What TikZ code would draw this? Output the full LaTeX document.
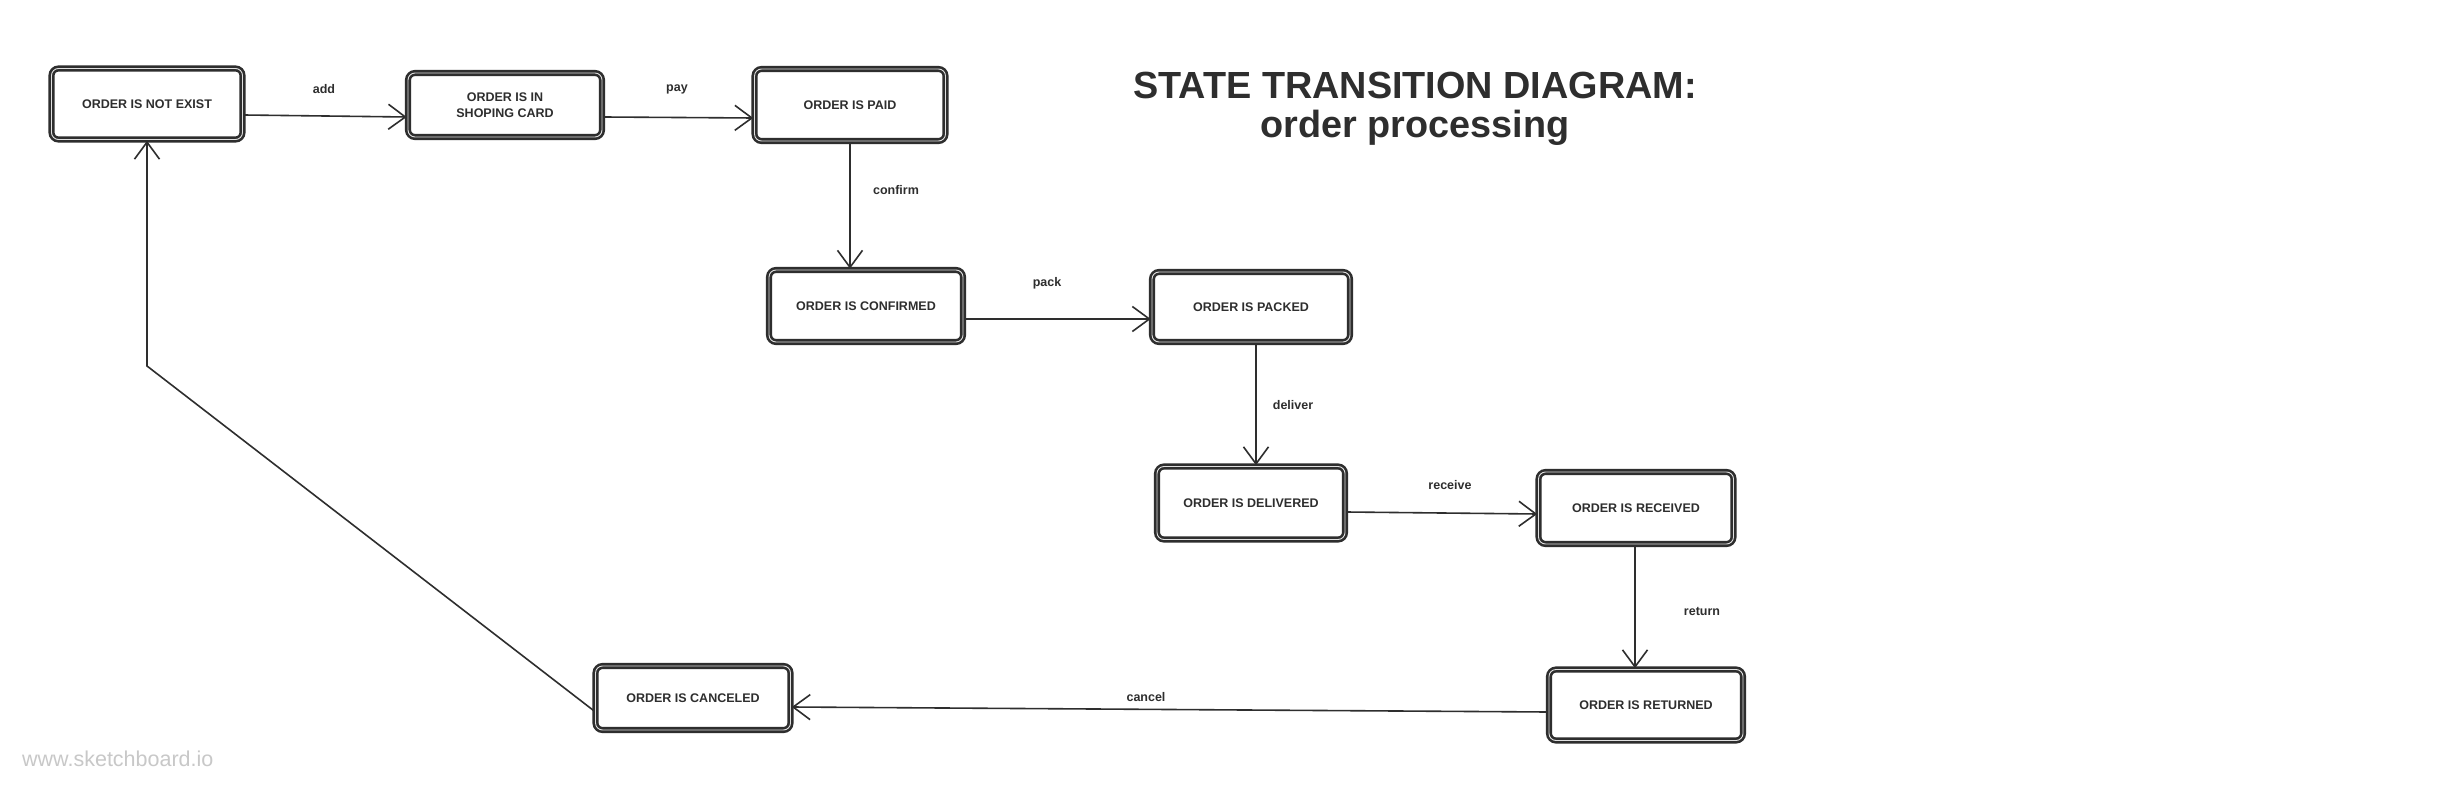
\documentclass[tikz,border=0pt]{standalone}
\usepackage{fontspec}
\setmainfont{Liberation Sans}
\usetikzlibrary{arrows.meta}
\definecolor{ink}{HTML}{2E2E2E}
\definecolor{wm}{HTML}{C8C8C8}
\tikzset{
  statebox/.style={draw=ink, double=white!88!black, double distance=0.9pt, line width=2.6pt,
    rounded corners=7pt, fill=white, text=ink, align=center,
    font=\fontsize{12.5}{16}\selectfont\bfseries, inner sep=0pt},
  conn/.style={draw=ink, line width=1.6pt, -{Straight Barb[length=17pt,width=25pt,line width=1.6pt]}},
  lbl/.style={text=ink, font=\fontsize{12.5}{15}\selectfont\bfseries, inner sep=0pt},
}
\begin{document}
\begin{tikzpicture}[x=1pt,y=-1pt]
\useasboundingbox (0,0) rectangle (2440,791);
\fill[white] (0,0) rectangle (2440,791);

% title
\node[text=ink, align=center, font=\fontsize{37.8}{38.5}\selectfont\bfseries] (title) at (1415,109)
  {STATE TRANSITION DIAGRAM:\\order processing};

% states
\node[statebox, minimum width=191pt, minimum height=71pt] (ne) at (147,104) {ORDER IS NOT EXIST};
\node[statebox, minimum width=194pt, minimum height=64pt] (sc) at (505,105) {ORDER IS IN\\SHOPING CARD};
\node[statebox, minimum width=191pt, minimum height=72pt] (pd) at (850,105) {ORDER IS PAID};
\node[statebox, minimum width=194pt, minimum height=72pt] (cf) at (866,306) {ORDER IS CONFIRMED};
\node[statebox, minimum width=198pt, minimum height=70pt] (pk) at (1251,307) {ORDER IS PACKED};
\node[statebox, minimum width=188pt, minimum height=73pt] (dl) at (1251,503) {ORDER IS DELIVERED};
\node[statebox, minimum width=195pt, minimum height=72pt] (rc) at (1636,508) {ORDER IS RECEIVED};
\node[statebox, minimum width=194pt, minimum height=71pt] (rt) at (1646,705) {ORDER IS RETURNED};
\node[statebox, minimum width=195pt, minimum height=64pt] (cn) at (693,698) {ORDER IS CANCELED};

% transitions
\draw[conn] ([yshift=-11pt]ne.east) -- ([yshift=-12pt]sc.west);
\draw[conn] ([yshift=-12pt]sc.east) -- ([yshift=-13pt]pd.west);
\draw[conn] (pd.south) -- (pd.south |- cf.north);
\draw[conn] ([yshift=-13pt]cf.east) -- ([yshift=-12pt]pk.west);
\draw[conn] ([xshift=5pt]pk.south) -- ([xshift=5pt]dl.north);
\draw[conn] ([yshift=-9pt]dl.east) -- ([yshift=-6pt]rc.west);
\draw[conn] ([xshift=-1pt]rc.south) -- ([xshift=-1pt]rc.south |- rt.north);
\draw[conn] ([yshift=-7pt]rt.west) -- ([yshift=-9pt]cn.east);
\coordinate (bend) at (147,366);
\draw[conn] ([yshift=-13pt]cn.west) -- (bend) -- (ne.south);

% labels
\node[lbl] (ladd) at (324,89) {add};
\node[lbl] (lpay) at (677,89) {pay};
\node[lbl] (lconfirm) at (896,190) {confirm};
\node[lbl] (lpack) at (1047,283) {pack};
\node[lbl] (ldeliver) at (1293,405) {deliver};
\node[lbl] (lreceive) at (1450,485) {receive};
\node[lbl] (lreturn) at (1702,611) {return};
\node[lbl] (lcancel) at (1146,697) {cancel};

% watermark
\node[text=wm, font=\fontsize{21.5}{24}\selectfont, anchor=west, inner sep=0pt] (wmark) at (22,759) {www.sketchboard.io};
\end{tikzpicture}
\end{document}
